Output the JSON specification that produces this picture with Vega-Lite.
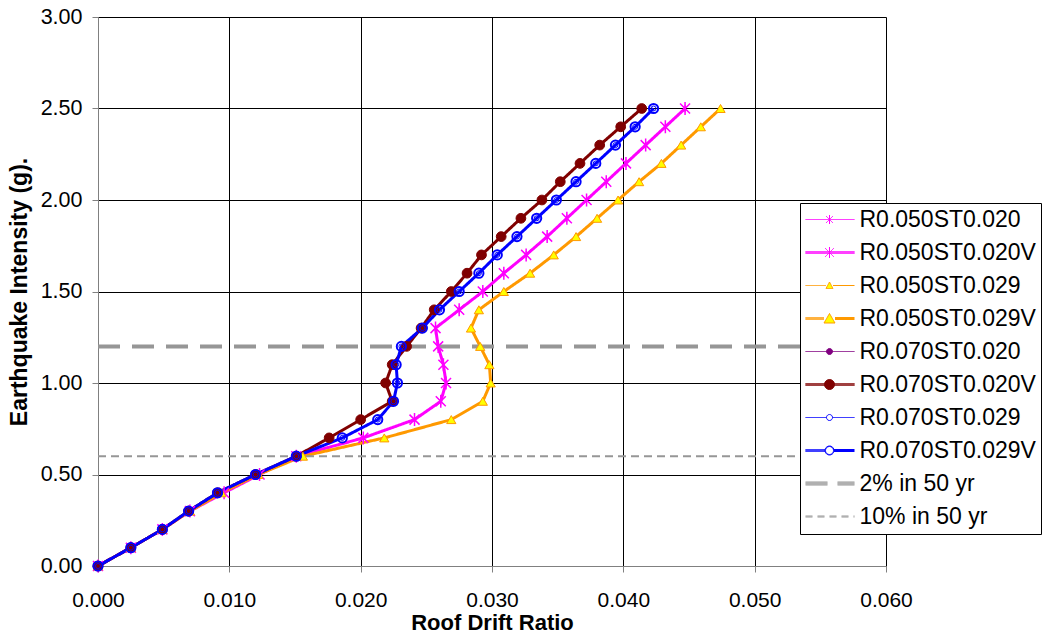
{
"$schema": "https://vega.github.io/schema/vega-lite/v6.json",
"width": 788, "height": 549,
"autosize": {"type": "none"},
"padding": {"left": 98, "top": 17, "right": 162, "bottom": 71},
"background": "white",
"config": {
  "view": {"stroke": null},
  "font": "Liberation Sans",
  "axis": {"grid": true, "gridColor": "#000000", "gridWidth": 1, "gridOpacity": 1, "domainColor": "#808080", "tickColor": "#808080", "tickSize": 6, "labelColor": "#000000", "titleColor": "#000000", "labelFont": "Liberation Sans", "titleFont": "Liberation Sans", "titleFontWeight": "bold"}
},
"data": {"values": [
{"s":"R0.050ST0.020","x":0,"y":0},{"s":"R0.050ST0.020","x":0.0025,"y":0.1},{"s":"R0.050ST0.020","x":0.0049,"y":0.2},{"s":"R0.050ST0.020","x":0.007,"y":0.3},{"s":"R0.050ST0.020","x":0.0096,"y":0.4},{"s":"R0.050ST0.020","x":0.0123,"y":0.5},{"s":"R0.050ST0.020","x":0.0151,"y":0.6},{"s":"R0.050ST0.020","x":0.0202,"y":0.7},{"s":"R0.050ST0.020","x":0.0241,"y":0.8},{"s":"R0.050ST0.020","x":0.0261,"y":0.9},{"s":"R0.050ST0.020","x":0.0265,"y":1.0},{"s":"R0.050ST0.020","x":0.0263,"y":1.1},{"s":"R0.050ST0.020","x":0.0259,"y":1.2},{"s":"R0.050ST0.020","x":0.0257,"y":1.3},{"s":"R0.050ST0.020","x":0.0275,"y":1.4},{"s":"R0.050ST0.020","x":0.0293,"y":1.5},{"s":"R0.050ST0.020","x":0.0309,"y":1.6},{"s":"R0.050ST0.020","x":0.0326,"y":1.7},{"s":"R0.050ST0.020","x":0.0342,"y":1.8},{"s":"R0.050ST0.020","x":0.0357,"y":1.9},{"s":"R0.050ST0.020","x":0.0372,"y":2.0},{"s":"R0.050ST0.020","x":0.0387,"y":2.1},{"s":"R0.050ST0.020","x":0.0402,"y":2.2},{"s":"R0.050ST0.020","x":0.0417,"y":2.3},{"s":"R0.050ST0.020","x":0.0432,"y":2.4},{"s":"R0.050ST0.020","x":0.0447,"y":2.5},
{"s":"R0.050ST0.020V","x":0,"y":0},{"s":"R0.050ST0.020V","x":0.0025,"y":0.1},{"s":"R0.050ST0.020V","x":0.0049,"y":0.2},{"s":"R0.050ST0.020V","x":0.007,"y":0.3},{"s":"R0.050ST0.020V","x":0.0096,"y":0.4},{"s":"R0.050ST0.020V","x":0.0123,"y":0.5},{"s":"R0.050ST0.020V","x":0.0151,"y":0.6},{"s":"R0.050ST0.020V","x":0.0202,"y":0.7},{"s":"R0.050ST0.020V","x":0.0241,"y":0.8},{"s":"R0.050ST0.020V","x":0.0261,"y":0.9},{"s":"R0.050ST0.020V","x":0.0265,"y":1.0},{"s":"R0.050ST0.020V","x":0.0263,"y":1.1},{"s":"R0.050ST0.020V","x":0.0259,"y":1.2},{"s":"R0.050ST0.020V","x":0.0257,"y":1.3},{"s":"R0.050ST0.020V","x":0.0275,"y":1.4},{"s":"R0.050ST0.020V","x":0.0293,"y":1.5},{"s":"R0.050ST0.020V","x":0.0309,"y":1.6},{"s":"R0.050ST0.020V","x":0.0326,"y":1.7},{"s":"R0.050ST0.020V","x":0.0342,"y":1.8},{"s":"R0.050ST0.020V","x":0.0357,"y":1.9},{"s":"R0.050ST0.020V","x":0.0372,"y":2.0},{"s":"R0.050ST0.020V","x":0.0387,"y":2.1},{"s":"R0.050ST0.020V","x":0.0402,"y":2.2},{"s":"R0.050ST0.020V","x":0.0417,"y":2.3},{"s":"R0.050ST0.020V","x":0.0432,"y":2.4},{"s":"R0.050ST0.020V","x":0.0447,"y":2.5},
{"s":"R0.050ST0.029","x":0,"y":0},{"s":"R0.050ST0.029","x":0.0025,"y":0.1},{"s":"R0.050ST0.029","x":0.0049,"y":0.2},{"s":"R0.050ST0.029","x":0.007,"y":0.3},{"s":"R0.050ST0.029","x":0.0094,"y":0.4},{"s":"R0.050ST0.029","x":0.0122,"y":0.5},{"s":"R0.050ST0.029","x":0.0156,"y":0.6},{"s":"R0.050ST0.029","x":0.0218,"y":0.7},{"s":"R0.050ST0.029","x":0.0269,"y":0.8},{"s":"R0.050ST0.029","x":0.0293,"y":0.9},{"s":"R0.050ST0.029","x":0.0299,"y":1.0},{"s":"R0.050ST0.029","x":0.0298,"y":1.1},{"s":"R0.050ST0.029","x":0.0291,"y":1.2},{"s":"R0.050ST0.029","x":0.0284,"y":1.3},{"s":"R0.050ST0.029","x":0.029,"y":1.4},{"s":"R0.050ST0.029","x":0.0309,"y":1.5},{"s":"R0.050ST0.029","x":0.0329,"y":1.6},{"s":"R0.050ST0.029","x":0.0347,"y":1.7},{"s":"R0.050ST0.029","x":0.0364,"y":1.8},{"s":"R0.050ST0.029","x":0.038,"y":1.9},{"s":"R0.050ST0.029","x":0.0396,"y":2.0},{"s":"R0.050ST0.029","x":0.0412,"y":2.1},{"s":"R0.050ST0.029","x":0.0429,"y":2.2},{"s":"R0.050ST0.029","x":0.0444,"y":2.3},{"s":"R0.050ST0.029","x":0.0459,"y":2.4},{"s":"R0.050ST0.029","x":0.0474,"y":2.5},
{"s":"R0.050ST0.029V","x":0,"y":0},{"s":"R0.050ST0.029V","x":0.0025,"y":0.1},{"s":"R0.050ST0.029V","x":0.0049,"y":0.2},{"s":"R0.050ST0.029V","x":0.007,"y":0.3},{"s":"R0.050ST0.029V","x":0.0094,"y":0.4},{"s":"R0.050ST0.029V","x":0.0122,"y":0.5},{"s":"R0.050ST0.029V","x":0.0156,"y":0.6},{"s":"R0.050ST0.029V","x":0.0218,"y":0.7},{"s":"R0.050ST0.029V","x":0.0269,"y":0.8},{"s":"R0.050ST0.029V","x":0.0293,"y":0.9},{"s":"R0.050ST0.029V","x":0.0299,"y":1.0},{"s":"R0.050ST0.029V","x":0.0298,"y":1.1},{"s":"R0.050ST0.029V","x":0.0291,"y":1.2},{"s":"R0.050ST0.029V","x":0.0284,"y":1.3},{"s":"R0.050ST0.029V","x":0.029,"y":1.4},{"s":"R0.050ST0.029V","x":0.0309,"y":1.5},{"s":"R0.050ST0.029V","x":0.0329,"y":1.6},{"s":"R0.050ST0.029V","x":0.0347,"y":1.7},{"s":"R0.050ST0.029V","x":0.0364,"y":1.8},{"s":"R0.050ST0.029V","x":0.038,"y":1.9},{"s":"R0.050ST0.029V","x":0.0396,"y":2.0},{"s":"R0.050ST0.029V","x":0.0412,"y":2.1},{"s":"R0.050ST0.029V","x":0.0429,"y":2.2},{"s":"R0.050ST0.029V","x":0.0444,"y":2.3},{"s":"R0.050ST0.029V","x":0.0459,"y":2.4},{"s":"R0.050ST0.029V","x":0.0474,"y":2.5},
{"s":"R0.070ST0.020","x":0,"y":0},{"s":"R0.070ST0.020","x":0.0025,"y":0.1},{"s":"R0.070ST0.020","x":0.0049,"y":0.2},{"s":"R0.070ST0.020","x":0.0069,"y":0.3},{"s":"R0.070ST0.020","x":0.0091,"y":0.4},{"s":"R0.070ST0.020","x":0.012,"y":0.5},{"s":"R0.070ST0.020","x":0.0151,"y":0.6},{"s":"R0.070ST0.020","x":0.0176,"y":0.7},{"s":"R0.070ST0.020","x":0.02,"y":0.8},{"s":"R0.070ST0.020","x":0.0224,"y":0.9},{"s":"R0.070ST0.020","x":0.0219,"y":1.0},{"s":"R0.070ST0.020","x":0.0224,"y":1.1},{"s":"R0.070ST0.020","x":0.0235,"y":1.2},{"s":"R0.070ST0.020","x":0.0246,"y":1.3},{"s":"R0.070ST0.020","x":0.0256,"y":1.4},{"s":"R0.070ST0.020","x":0.0269,"y":1.5},{"s":"R0.070ST0.020","x":0.0281,"y":1.6},{"s":"R0.070ST0.020","x":0.0292,"y":1.7},{"s":"R0.070ST0.020","x":0.0307,"y":1.8},{"s":"R0.070ST0.020","x":0.0322,"y":1.9},{"s":"R0.070ST0.020","x":0.0338,"y":2.0},{"s":"R0.070ST0.020","x":0.0352,"y":2.1},{"s":"R0.070ST0.020","x":0.0367,"y":2.2},{"s":"R0.070ST0.020","x":0.0382,"y":2.3},{"s":"R0.070ST0.020","x":0.0398,"y":2.4},{"s":"R0.070ST0.020","x":0.0414,"y":2.5},
{"s":"R0.070ST0.020V","x":0,"y":0},{"s":"R0.070ST0.020V","x":0.0025,"y":0.1},{"s":"R0.070ST0.020V","x":0.0049,"y":0.2},{"s":"R0.070ST0.020V","x":0.0069,"y":0.3},{"s":"R0.070ST0.020V","x":0.0091,"y":0.4},{"s":"R0.070ST0.020V","x":0.012,"y":0.5},{"s":"R0.070ST0.020V","x":0.0151,"y":0.6},{"s":"R0.070ST0.020V","x":0.0176,"y":0.7},{"s":"R0.070ST0.020V","x":0.02,"y":0.8},{"s":"R0.070ST0.020V","x":0.0224,"y":0.9},{"s":"R0.070ST0.020V","x":0.0219,"y":1.0},{"s":"R0.070ST0.020V","x":0.0224,"y":1.1},{"s":"R0.070ST0.020V","x":0.0235,"y":1.2},{"s":"R0.070ST0.020V","x":0.0246,"y":1.3},{"s":"R0.070ST0.020V","x":0.0256,"y":1.4},{"s":"R0.070ST0.020V","x":0.0269,"y":1.5},{"s":"R0.070ST0.020V","x":0.0281,"y":1.6},{"s":"R0.070ST0.020V","x":0.0292,"y":1.7},{"s":"R0.070ST0.020V","x":0.0307,"y":1.8},{"s":"R0.070ST0.020V","x":0.0322,"y":1.9},{"s":"R0.070ST0.020V","x":0.0338,"y":2.0},{"s":"R0.070ST0.020V","x":0.0352,"y":2.1},{"s":"R0.070ST0.020V","x":0.0367,"y":2.2},{"s":"R0.070ST0.020V","x":0.0382,"y":2.3},{"s":"R0.070ST0.020V","x":0.0398,"y":2.4},{"s":"R0.070ST0.020V","x":0.0414,"y":2.5},
{"s":"R0.070ST0.029","x":0,"y":0},{"s":"R0.070ST0.029","x":0.0025,"y":0.1},{"s":"R0.070ST0.029","x":0.0049,"y":0.2},{"s":"R0.070ST0.029","x":0.0069,"y":0.3},{"s":"R0.070ST0.029","x":0.0091,"y":0.4},{"s":"R0.070ST0.029","x":0.012,"y":0.5},{"s":"R0.070ST0.029","x":0.0151,"y":0.6},{"s":"R0.070ST0.029","x":0.0186,"y":0.7},{"s":"R0.070ST0.029","x":0.0213,"y":0.8},{"s":"R0.070ST0.029","x":0.0225,"y":0.9},{"s":"R0.070ST0.029","x":0.0228,"y":1.0},{"s":"R0.070ST0.029","x":0.0227,"y":1.1},{"s":"R0.070ST0.029","x":0.0231,"y":1.2},{"s":"R0.070ST0.029","x":0.0247,"y":1.3},{"s":"R0.070ST0.029","x":0.026,"y":1.4},{"s":"R0.070ST0.029","x":0.0275,"y":1.5},{"s":"R0.070ST0.029","x":0.029,"y":1.6},{"s":"R0.070ST0.029","x":0.0304,"y":1.7},{"s":"R0.070ST0.029","x":0.0319,"y":1.8},{"s":"R0.070ST0.029","x":0.0334,"y":1.9},{"s":"R0.070ST0.029","x":0.0349,"y":2.0},{"s":"R0.070ST0.029","x":0.0364,"y":2.1},{"s":"R0.070ST0.029","x":0.0379,"y":2.2},{"s":"R0.070ST0.029","x":0.0394,"y":2.3},{"s":"R0.070ST0.029","x":0.0409,"y":2.4},{"s":"R0.070ST0.029","x":0.0423,"y":2.5},
{"s":"R0.070ST0.029V","x":0,"y":0},{"s":"R0.070ST0.029V","x":0.0025,"y":0.1},{"s":"R0.070ST0.029V","x":0.0049,"y":0.2},{"s":"R0.070ST0.029V","x":0.0069,"y":0.3},{"s":"R0.070ST0.029V","x":0.0091,"y":0.4},{"s":"R0.070ST0.029V","x":0.012,"y":0.5},{"s":"R0.070ST0.029V","x":0.0151,"y":0.6},{"s":"R0.070ST0.029V","x":0.0186,"y":0.7},{"s":"R0.070ST0.029V","x":0.0213,"y":0.8},{"s":"R0.070ST0.029V","x":0.0225,"y":0.9},{"s":"R0.070ST0.029V","x":0.0228,"y":1.0},{"s":"R0.070ST0.029V","x":0.0227,"y":1.1},{"s":"R0.070ST0.029V","x":0.0231,"y":1.2},{"s":"R0.070ST0.029V","x":0.0247,"y":1.3},{"s":"R0.070ST0.029V","x":0.026,"y":1.4},{"s":"R0.070ST0.029V","x":0.0275,"y":1.5},{"s":"R0.070ST0.029V","x":0.029,"y":1.6},{"s":"R0.070ST0.029V","x":0.0304,"y":1.7},{"s":"R0.070ST0.029V","x":0.0319,"y":1.8},{"s":"R0.070ST0.029V","x":0.0334,"y":1.9},{"s":"R0.070ST0.029V","x":0.0349,"y":2.0},{"s":"R0.070ST0.029V","x":0.0364,"y":2.1},{"s":"R0.070ST0.029V","x":0.0379,"y":2.2},{"s":"R0.070ST0.029V","x":0.0394,"y":2.3},{"s":"R0.070ST0.029V","x":0.0409,"y":2.4},{"s":"R0.070ST0.029V","x":0.0423,"y":2.5},
{"s":"2% in 50 yr","x":0,"y":1.2},{"s":"2% in 50 yr","x":0.06,"y":1.2},
{"s":"10% in 50 yr","x":0,"y":0.6},{"s":"10% in 50 yr","x":0.06,"y":0.6}
]},
"layer": [
  {
    "mark": {"type": "line", "strokeCap": "butt", "strokeJoin": "round"},
    "encoding": {
      "x": {"field": "x", "type": "quantitative",
        "scale": {"domain": [0, 0.06], "nice": false, "zero": false},
        "axis": {"values": [0, 0.01, 0.02, 0.03, 0.04, 0.05, 0.06], "format": ".3f", "labelFontSize": 21, "labelPadding": 17, "title": "Roof Drift Ratio", "titleFontSize": 22, "titlePadding": 2, "labelFlush": false}},
      "y": {"field": "y", "type": "quantitative",
        "scale": {"domain": [0, 3], "nice": false, "zero": false},
        "axis": {"values": [0, 0.5, 1, 1.5, 2, 2.5, 3], "format": ".2f", "labelFontSize": 21.5, "labelPadding": 10, "title": "Earthquake Intensity (g).", "titleFontSize": 23, "titlePadding": 9}},
      "order": {"field": "y", "type": "quantitative"},
      "color": {"field": "s", "type": "nominal",
        "scale": {"domain": ["R0.050ST0.020", "R0.050ST0.020V", "R0.050ST0.029", "R0.050ST0.029V", "R0.070ST0.020", "R0.070ST0.020V", "R0.070ST0.029", "R0.070ST0.029V", "2% in 50 yr", "10% in 50 yr"],
                  "range": ["#FF00FF", "#FF00FF", "#FF9900", "#FF9900", "#800080", "#800000", "#0000FF", "#0000FF", "#969696", "#969696"]},
        "legend": {
          "orient": "none", "legendX": 702, "legendY": 186, "title": null,
          "fillColor": "white", "strokeColor": "black", "padding": 5, "rowPadding": 9,
          "labelFontSize": 23, "labelFont": "Liberation Sans", "labelColor": "black", "labelLimit": 300,
          "symbolSize": 4, "symbolStrokeWidth": 1, "labelOffset": 31.5, "symbolType": "stroke",
          "encode": {"symbols": {"update": {
            "shape": {"signal": "['M-11,0H38M9.5,-3.5L16.5,3.5M9.5,3.5L16.5,-3.5M13,-4.5V4.5', 'M-11,-1H38M-11,0H38M-11,1H38M8.5,-4.5L17.5,4.5M8.5,4.5L17.5,-4.5M13,-5.5V5.5', 'M-11,0H9.5M16.5,0H38M13,-3.5L16.5,3L9.5,3Z', 'M-11,-1H7.5M-11,0H7.5M-11,1H7.5M18.5,-1H38M18.5,0H38M18.5,1H38M13,-5L18.5,4.5L7.5,4.5Z', 'M-11,0H38M16,0A3,3 0 1,1 10,0A3,3 0 1,1 16,0Z', 'M-11,-1H38M-11,0H38M-11,1H38M18,0A5,5 0 1,1 8,0A5,5 0 1,1 18,0Z', 'M-11,0H10M16,0H38M16,0A3,3 0 1,1 10,0A3,3 0 1,1 16,0Z', 'M-11,-1H8.5M-11,0H8.5M-11,1H8.5M17.5,-1H38M17.5,0H38M17.5,1H38M17.5,0A4.5,4.5 0 1,1 8.5,0A4.5,4.5 0 1,1 17.5,0ZM17,0A4,4 0 1,1 9,0A4,4 0 1,1 17,0Z', 'M-11,-1.5H38M-11,-0.5H38M-11,0.5H38M-11,1.5H38', 'M-11,-0.5H38M-11,0.5H38'][indexof(['R0.050ST0.020', 'R0.050ST0.020V', 'R0.050ST0.029', 'R0.050ST0.029V', 'R0.070ST0.020', 'R0.070ST0.020V', 'R0.070ST0.029', 'R0.070ST0.029V', '2% in 50 yr', '10% in 50 yr'], datum.value)]"},
            "stroke": {"signal": "['#FF00FF', '#FF00FF', '#FF9900', '#FF9900', '#800080', '#800000', '#0000FF', '#0000FF', '#969696', '#969696'][indexof(['R0.050ST0.020', 'R0.050ST0.020V', 'R0.050ST0.029', 'R0.050ST0.029V', 'R0.070ST0.020', 'R0.070ST0.020V', 'R0.070ST0.029', 'R0.070ST0.029V', '2% in 50 yr', '10% in 50 yr'], datum.value)]"},
            "fill": {"signal": "['transparent', 'transparent', '#FFFF00', '#FFFF00', '#800080', '#800000', '#FFFFFF', '#FFFFFF', 'transparent', 'transparent'][indexof(['R0.050ST0.020', 'R0.050ST0.020V', 'R0.050ST0.029', 'R0.050ST0.029V', 'R0.070ST0.020', 'R0.070ST0.020V', 'R0.070ST0.029', 'R0.070ST0.029V', '2% in 50 yr', '10% in 50 yr'], datum.value)]"},
            "strokeDash": {"signal": "datum.value === '2% in 50 yr' ? [22, 10] : datum.value === '10% in 50 yr' ? [7, 5] : [1, 0]"},
            "strokeWidth": {"value": 1},
            "opacity": {"value": 1}
          }}}
        }},
      "strokeWidth": {"field": "s", "type": "nominal",
        "scale": {"type": "ordinal", "domain": ["R0.050ST0.020", "R0.050ST0.020V", "R0.050ST0.029", "R0.050ST0.029V", "R0.070ST0.020", "R0.070ST0.020V", "R0.070ST0.029", "R0.070ST0.029V", "2% in 50 yr", "10% in 50 yr"],
                  "range": [1, 3, 1, 3, 1, 3, 1, 3, 4, 2]},
        "legend": null},
      "strokeDash": {"field": "s", "type": "nominal",
        "scale": {"type": "ordinal", "domain": ["R0.050ST0.020", "R0.050ST0.020V", "R0.050ST0.029", "R0.050ST0.029V", "R0.070ST0.020", "R0.070ST0.020V", "R0.070ST0.029", "R0.070ST0.029V", "2% in 50 yr", "10% in 50 yr"],
                  "range": [[1, 0], [1, 0], [1, 0], [1, 0], [1, 0], [1, 0], [1, 0], [1, 0], [22, 12], [8, 5]]},
        "legend": null}
    }
  },
  {
    "transform": [{"filter": {"field": "s", "oneOf": ["R0.050ST0.020", "R0.050ST0.020V", "R0.050ST0.029", "R0.050ST0.029V", "R0.070ST0.020", "R0.070ST0.020V", "R0.070ST0.029", "R0.070ST0.029V"]}}],
    "mark": {"type": "point", "opacity": 1},
    "encoding": {
      "x": {"field": "x", "type": "quantitative"},
      "y": {"field": "y", "type": "quantitative"},
      "shape": {"field": "s", "type": "nominal",
        "scale": {"domain": ["R0.050ST0.020", "R0.050ST0.020V", "R0.050ST0.029", "R0.050ST0.029V", "R0.070ST0.020", "R0.070ST0.020V", "R0.070ST0.029", "R0.070ST0.029V"],
                  "range": ["M-1,-1L1,1M-1,1L1,-1M0,-1.3V1.3", "M-1,-1L1,1M-1,1L1,-1M0,-1.3V1.3", "triangle-up", "triangle-up", "circle", "circle", "circle", "circle"]},
        "legend": null},
      "size": {"field": "s", "type": "nominal",
        "scale": {"type": "ordinal", "domain": ["R0.050ST0.020", "R0.050ST0.020V", "R0.050ST0.029", "R0.050ST0.029V", "R0.070ST0.020", "R0.070ST0.020V", "R0.070ST0.029", "R0.070ST0.029V"],
                  "range": [36, 100, 30, 85, 30, 95, 25, 85]},
        "legend": null},
      "stroke": {"field": "s", "type": "nominal",
        "scale": {"domain": ["R0.050ST0.020", "R0.050ST0.020V", "R0.050ST0.029", "R0.050ST0.029V", "R0.070ST0.020", "R0.070ST0.020V", "R0.070ST0.029", "R0.070ST0.029V"],
                  "range": ["#FF00FF", "#FF00FF", "#FF9900", "#FF9900", "#800080", "#800000", "#0000FF", "#0000FF"]},
        "legend": null},
      "fill": {"field": "s", "type": "nominal",
        "scale": {"domain": ["R0.050ST0.020", "R0.050ST0.020V", "R0.050ST0.029", "R0.050ST0.029V", "R0.070ST0.020", "R0.070ST0.020V", "R0.070ST0.029", "R0.070ST0.029V"],
                  "range": ["transparent", "transparent", "#FFFF00", "#FFFF00", "#800080", "#800000", "transparent", "transparent"]},
        "legend": null},
      "strokeWidth": {"field": "s", "type": "nominal",
        "scale": {"type": "ordinal", "domain": ["R0.050ST0.020", "R0.050ST0.020V", "R0.050ST0.029", "R0.050ST0.029V", "R0.070ST0.020", "R0.070ST0.020V", "R0.070ST0.029", "R0.070ST0.029V"],
                  "range": [1, 1.5, 1, 1, 1, 1, 1, 2]},
        "legend": null}
    }
  }
],
"resolve": {"scale": {"strokeWidth": "independent", "strokeDash": "independent"}}
}
